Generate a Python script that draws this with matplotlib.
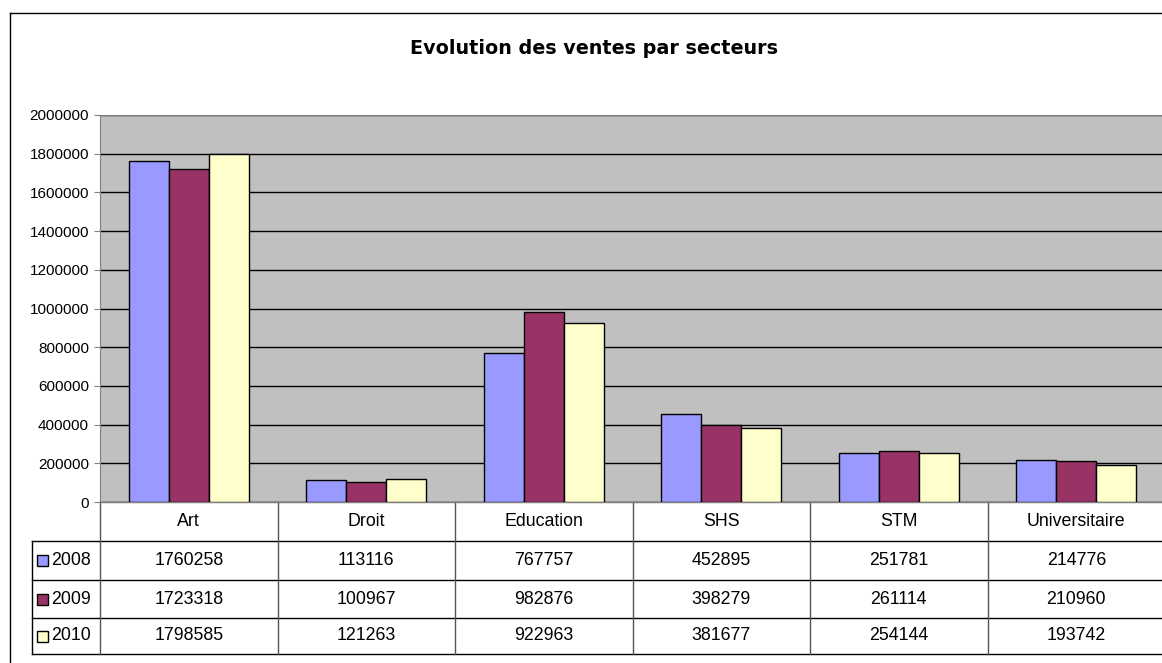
import matplotlib
matplotlib.use("Agg")
import matplotlib.pyplot as plt
from matplotlib.lines import Line2D
from matplotlib.patches import Rectangle

categories = ["Art", "Droit", "Education", "SHS", "STM", "Universitaire"]
years = ["2008", "2009", "2010"]
v2008 = [1760258, 113116, 767757, 452895, 251781, 214776]
v2009 = [1723318, 100967, 982876, 398279, 261114, 210960]
v2010 = [1798585, 121263, 922963, 381677, 254144, 193742]
yticks = [0, 200000, 400000, 600000, 800000, 1000000, 1200000, 1400000,
          1600000, 1800000, 2000000]
colors = ["#9999FF", "#993366", "#FFFFCC"]
title = "Evolution des ventes par secteurs"

series = [v2008, v2009, v2010]

W, H = 1162, 663
fig = plt.figure(figsize=(W / 100, H / 100), dpi=100)
plt.rcParams['font.family'] = ['Liberation Sans', 'DejaVu Sans']

def fx(px):
    return px / W

def fy(py):
    return 1 - py / H

# outer frame
fig.add_artist(Line2D([fx(10), fx(10)], [fy(13), fy(700)], color="black", lw=1.0))
fig.add_artist(Line2D([fx(10), fx(1200)], [fy(13), fy(13)], color="black", lw=1.0))

fig.text(fx(594), fy(48), title, ha="center", va="center", fontsize=13.8,
         fontweight="bold", family=["DejaVu Sans"])

left_px, right_px, top_px, bot_px = 100, 1165, 115, 502
ax = fig.add_axes([fx(left_px), fy(bot_px), (right_px - left_px) / W,
                   (bot_px - top_px) / H])
ax.set_facecolor("#C0C0C0")
ax.set_xlim(-0.5, len(categories) - 0.5)
ax.set_ylim(0, 2000000)
ax.set_yticks(yticks)
ax.set_yticklabels([str(t) for t in yticks])
ax.yaxis.grid(True, color="black", lw=1.0)
ax.set_axisbelow(True)
ax.set_xticks([])
ax.tick_params(axis="y", length=4, color="#808080", labelsize=11, pad=4)
for s in ["right"]:
    ax.spines[s].set_visible(False)
ax.spines["top"].set_color("#808080")
ax.spines["left"].set_color("#808080")
ax.spines["bottom"].set_color("#808080")

bw = 0.225
for i, (vals, c) in enumerate(zip(series, colors)):
    xs = [k + (i - 1) * bw for k in range(len(categories))]
    ax.bar(xs, vals, width=bw, color=c, edgecolor="black", linewidth=1.0, zorder=3)

# table below
tr = ax.get_xaxis_transform()
ph = bot_px - top_px

def ay(py):
    return (bot_px - py) / ph

row_px = [502, 541, 580, 618, 654]
legend_left = -0.5 - (100 - 32) / 177.5
ncat = len(categories)

def hline(x0, x1, py, color="black"):
    ax.add_line(Line2D([x0, x1], [ay(py), ay(py)], transform=tr, color=color,
                       lw=1.0, clip_on=False))

def vline(x, py0, py1, color="#555555"):
    ax.add_line(Line2D([x, x], [ay(py0), ay(py1)], transform=tr, color=color,
                       lw=1.0, clip_on=False))

hline(-0.5, ncat, row_px[0], "#808080")
for py in row_px[1:]:
    hline(legend_left, ncat, py)
for k in range(ncat + 1):
    vline(k - 0.5, row_px[0], row_px[-1])
vline(legend_left, row_px[1], row_px[-1], "black")

for k, cat in enumerate(categories):
    ax.text(k, ay((row_px[0] + row_px[1]) / 2), cat, transform=tr, ha="center",
            va="center", fontsize=12.8, clip_on=False)

for r, (yr, vals, c) in enumerate(zip(years, series, colors)):
    ymid = (row_px[r + 1] + row_px[r + 2]) / 2
    for k, v in enumerate(vals):
        ax.text(k, ay(ymid), str(v), transform=tr, ha="center", va="center",
                fontsize=12.8, clip_on=False)
    fig.add_artist(Rectangle((fx(37), fy(ymid + 5.5)), 11 / W, 11 / H,
                             facecolor=c, edgecolor="black", lw=1.0))
    fig.text(fx(51), fy(ymid), yr, ha="left", va="center", fontsize=12.8)

fig.savefig("out.png", dpi=100)
